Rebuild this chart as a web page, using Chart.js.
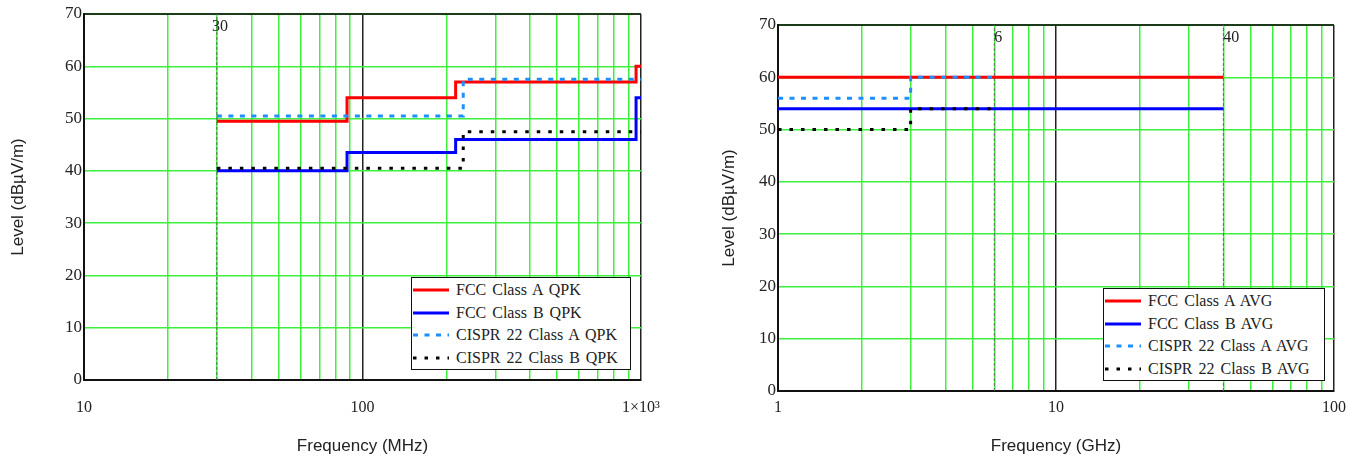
<!DOCTYPE html>
<html>
<head>
<meta charset="utf-8">
<script src="https://cdn.jsdelivr.net/npm/chart.js@4.4.1/dist/chart.umd.min.js"></script>
<style>
  body { margin: 0; background: #fff; width: 1359px; height: 458px; overflow: hidden; position: relative; }
  canvas { position: absolute; top: 0; }
  #qpkChart { left: 0; }
  #avgChart { left: 680px; }
  .legend { position: absolute; height: 93px; border: 1.5px solid #111; background: #fff; box-sizing: border-box;
            font-family: "Liberation Serif", serif; font-size: 16px; color: #222; }
  .legend-row { position: absolute; left: 0; height: 22px; line-height: 22px; }
  .legend-row svg { position: absolute; left: 1px; top: 9px; }
  .legend-row span { position: absolute; left: 44px; white-space: nowrap; word-spacing: 2px; }
</style>
</head>
<body>
<canvas id="qpkChart" width="680" height="458"></canvas>
<canvas id="avgChart" width="679" height="458"></canvas>
<div class="legend" id="qpkLegend" style="left:411px; top:277px; width:220px;"></div>
<div class="legend" id="avgLegend" style="left:1103px; top:288px; width:222px;"></div>
<script>
// QPK limits, 30 MHz - 1 GHz
const qpkFccAFreq = [30, 88, 216, 960, 1000];
const qpkFccALevel = [49.5, 54, 57, 60, 60];
const qpkFccBFreq = [30, 88, 216, 960, 1000];
const qpkFccBLevel = [40, 43.5, 46, 54, 54];
const qpkCisprAFreq = [30, 230, 1000];
const qpkCisprALevel = [50.5, 57.5, 57.5];
const qpkCisprBFreq = [30, 230, 1000];
const qpkCisprBLevel = [40.5, 47.5, 47.5];
const qpkLabels = ['FCC Class A QPK', 'FCC Class B QPK', 'CISPR 22 Class A QPK', 'CISPR 22 Class B QPK'];
const qpkMarkers = [30];

// AVG limits, 1 GHz - 40 GHz
const avgFccAFreq = [1, 40];
const avgFccALevel = [60, 60];
const avgFccBFreq = [1, 40];
const avgFccBLevel = [54, 54];
const avgCisprAFreq = [1, 3, 6];
const avgCisprALevel = [56, 60, 60];
const avgCisprBFreq = [1, 3, 6];
const avgCisprBLevel = [50, 54, 54];
const avgLabels = ['FCC Class A AVG', 'FCC Class B AVG', 'CISPR 22 Class A AVG', 'CISPR 22 Class B AVG'];
const avgMarkers = [6, 40];

// axis ticks
const qpkTickValues = [10, 20, 30, 40, 50, 60, 70, 80, 90, 100, 200, 300, 400, 500, 600, 700, 800, 900, 1000];
const qpkTickShown = [10, 100, 1000];
const qpkTickText = ['10', '100', '1×10³'];
const avgTickValues = [1, 2, 3, 4, 5, 6, 7, 8, 9, 10, 20, 30, 40, 50, 60, 70, 80, 90, 100];
const avgTickShown = [1, 10, 100];
const avgTickText = ['1', '10', '100'];
const levelMin = 0;
const levelMax = 70;

const seriesColors = ['#ff0000', '#0000ff', '#1e8fff', '#000000'];
const seriesDash = [[], [], [5, 6.5], [3.5, 8]];
const seriesOrder = [4, 3, 2, 1];

const GREEN = '#3cf03c';

function toPoints(xs, ys) {
    return xs.map((x, i) => ({ x: x, y: ys[i] }));
}

const markerLabels = {
    id: 'markerLabels',
    afterDraw(chart, args, opts) {
        const ctx = chart.ctx;
        const xs = chart.scales.x;
        ctx.save();
        ctx.font = '16px "Liberation Serif", serif';
        ctx.fillStyle = '#222';
        ctx.textBaseline = 'middle';
        ctx.textAlign = 'left';
        opts.values.forEach(v => {
            ctx.fillText(String(v), xs.getPixelForValue(v) + opts.dx, chart.chartArea.top + 13);
        });
        ctx.restore();
    }
};

function makeChart(id, cfg) {
    const datasets = cfg.series.map((s, i) => ({
        label: cfg.labels[i],
        data: toPoints(s[0], s[1]),
        borderColor: seriesColors[i],
        borderDash: seriesDash[i],
        borderWidth: 3,
        pointRadius: 0,
        stepped: true,
        fill: false,
        order: seriesOrder[i]
    }));
    cfg.markers.forEach(m => {
        datasets.push({
            label: 'marker',
            data: toPoints([m, m], [levelMin, levelMax]),
            borderColor: '#666',
            borderDash: [3, 2],
            borderWidth: 1,
            pointRadius: 0,
            order: 10
        });
    });

    return new Chart(document.getElementById(id), {
        type: 'line',
        data: { datasets: datasets },
        plugins: [markerLabels],
        options: {
            responsive: false,
            animation: false,
            devicePixelRatio: 1,
            layout: { padding: { top: cfg.top, right: cfg.right, left: 0, bottom: 0 } },
            plugins: {
                legend: { display: false },
                tooltip: { enabled: false },
                markerLabels: { values: cfg.markers, dx: cfg.markerDx }
            },
            scales: {
                x: {
                    type: 'logarithmic',
                    min: cfg.ticks[0],
                    max: cfg.ticks[cfg.ticks.length - 1],
                    afterBuildTicks: (scale) => { scale.ticks = cfg.ticks.map(v => ({ value: v })); },
                    afterFit: (scale) => { scale.height = cfg.xHeight; },
                    ticks: {
                        autoSkip: false,
                        maxRotation: 0,
                        padding: cfg.xTickPad,
                        color: '#222',
                        font: { family: '"Liberation Serif", serif', size: 16 },
                        callback: (v) => {
                            const k = cfg.shown.indexOf(v);
                            return k >= 0 ? cfg.shownText[k] : '';
                        }
                    },
                    grid: {
                        drawTicks: false,
                        lineWidth: 1.5,
                        color: (c) => (c.tick && cfg.blackAt.includes(c.tick.value)) ? '#222' : GREEN
                    },
                    border: { color: '#111', width: 2 },
                    title: {
                        display: true,
                        text: cfg.xTitle,
                        color: '#222',
                        font: { family: '"Liberation Sans", Arial, sans-serif', size: 17 },
                        padding: { top: 0, bottom: 1 }
                    }
                },
                y: {
                    min: levelMin,
                    max: levelMax,
                    afterFit: (scale) => { scale.width = cfg.yWidth; },
                    ticks: {
                        stepSize: 10,
                        padding: 2,
                        color: '#222',
                        font: { family: '"Liberation Serif", serif', size: 17 }
                    },
                    grid: {
                        drawTicks: false,
                        lineWidth: (c) => (c.tick && c.tick.value === levelMax) ? 2 : 1.5,
                        color: (c) => (c.tick && c.tick.value === levelMax) ? '#1b3b1b' : GREEN
                    },
                    border: { color: '#111', width: 2 },
                    title: {
                        display: true,
                        text: 'Level (dBµV/m)',
                        color: '#222',
                        font: { family: '"Liberation Sans", Arial, sans-serif', size: 17 },
                        padding: { top: cfg.yTitlePad, bottom: 0 }
                    }
                }
            }
        }
    });
}

function makeLegend(id, labels) {
    const box = document.getElementById(id);
    labels.forEach((text, i) => {
        const row = document.createElement('div');
        row.className = 'legend-row';
        row.style.top = (1 + i * 22.6) + 'px';
        const dash = seriesDash[i].length ? seriesDash[i].join(' ') : 'none';
        row.innerHTML = '<svg width="36" height="4"><line x1="0" y1="2" x2="36" y2="2" stroke="' +
            seriesColors[i] + '" stroke-width="3" stroke-dasharray="' + dash + '"/></svg><span>' + text + '</span>';
        box.appendChild(row);
    });
}

makeChart('qpkChart', {
    series: [[qpkFccAFreq, qpkFccALevel], [qpkFccBFreq, qpkFccBLevel],
             [qpkCisprAFreq, qpkCisprALevel], [qpkCisprBFreq, qpkCisprBLevel]],
    labels: qpkLabels,
    markers: qpkMarkers,
    markerDx: -5,
    ticks: qpkTickValues,
    shown: qpkTickShown,
    shownText: qpkTickText,
    blackAt: [100, 1000],
    xTitle: 'Frequency (MHz)',
    top: 14, right: 39, xHeight: 78, yWidth: 84,
    xTickPad: 18, yTitlePad: 8
});

makeChart('avgChart', {
    series: [[avgFccAFreq, avgFccALevel], [avgFccBFreq, avgFccBLevel],
             [avgCisprAFreq, avgCisprALevel], [avgCisprBFreq, avgCisprBLevel]],
    labels: avgLabels,
    markers: avgMarkers,
    markerDx: 0,
    ticks: avgTickValues,
    shown: avgTickShown,
    shownText: avgTickText,
    blackAt: [10, 100],
    xTitle: 'Frequency (GHz)',
    top: 25, right: 25, xHeight: 67, yWidth: 98,
    xTickPad: 7, yTitlePad: 39
});

makeLegend('qpkLegend', qpkLabels);
makeLegend('avgLegend', avgLabels);
</script>
</body>
</html>
